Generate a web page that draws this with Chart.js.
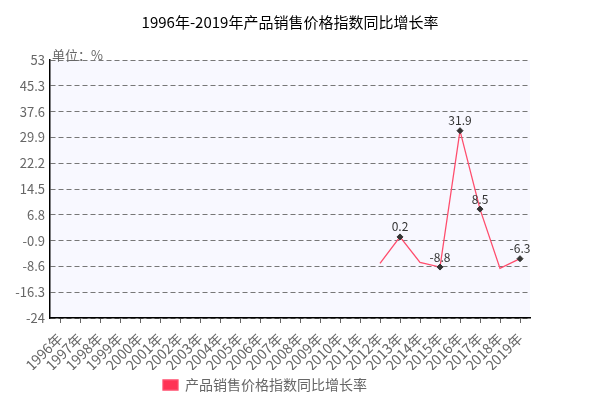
<!DOCTYPE html>
<html lang="zh">
<head>
<meta charset="UTF-8" />
<title>产品销售价格指数同比增长率</title>
<script src="https://cdn.jsdelivr.net/npm/chart.js"></script>
<style>
  html, body { margin: 0; padding: 0; background: #fff; }
  #box { width: 610px; height: 406px; }
</style>
</head>
<body>
<div id="box"><canvas id="chartCanvas"></canvas></div>
<script>
const years = ['1996年','1997年','1998年','1999年','2000年','2001年','2002年','2003年','2004年','2005年','2006年','2007年','2008年','2009年','2010年','2011年','2012年','2013年','2014年','2015年','2016年','2017年','2018年','2019年'];
const growth = [null,null,null,null,null,null,null,null,null,null,null,null,null,null,null,null,-7.7,0.2,-7.4,-8.8,31.9,8.5,-9.2,-6.3];
// only these points get a marker and a label in the original
const labelled = [false,false,false,false,false,false,false,false,false,false,false,false,false,false,false,false,false,true,false,true,true,true,false,true];
const yTicks = [-24,-16.3,-8.6,-0.9,6.8,14.5,22.2,29.9,37.6,45.3,53];
const titleText = '1996年-2019年产品销售价格指数同比增长率';
const unitText = '单位：%';
const FONT = '"Noto Sans CJK SC", "DejaVu Sans", sans-serif';

const decor = {
  id: 'decor',
  beforeDraw(chart) {
    const a = chart.chartArea, c = chart.ctx;
    c.save();
    c.fillStyle = '#f8f8ff';
    c.fillRect(a.left, a.top, a.right - a.left, a.bottom - a.top);
    c.restore();
  },
  afterDraw(chart) {
    const a = chart.chartArea, c = chart.ctx;
    c.save();
    c.fillStyle = '#000';
    c.font = '15px ' + FONT;
    c.textAlign = 'center';
    c.textBaseline = 'middle';
    c.fillText(titleText, (a.left + a.right) / 2, 22);
    c.fillStyle = '#666';
    c.font = '13px ' + FONT;
    c.textAlign = 'left';
    c.textBaseline = 'middle';
    c.fillText(unitText, a.left + 2, a.top - 5);
    // value labels
    const meta = chart.getDatasetMeta(0);
    c.fillStyle = '#333';
    c.font = '12px ' + FONT;
    c.textAlign = 'center';
    c.textBaseline = 'bottom';
    meta.data.forEach((p, i) => {
      if (!labelled[i] || growth[i] == null) return;
      c.fillText(String(growth[i]), p.x, p.y - 4);
    });
    c.restore();
  }
};

new Chart(document.getElementById('chartCanvas'), {
  type: 'line',
  data: {
    labels: years,
    datasets: [{
      label: '产品销售价格指数同比增长率',
      data: growth,
      borderColor: '#ff4d6d',
      backgroundColor: '#ff3355',
      borderWidth: 1.3,
      pointStyle: 'rectRot',
      pointRadius: labelled.map(v => v ? 3 : 0),
      pointBackgroundColor: '#333',
      pointBorderColor: '#333',
      pointBorderWidth: 1,
      tension: 0,
      spanGaps: false
    }]
  },
  options: {
    responsive: true,
    maintainAspectRatio: false,
    animation: false,
    layout: { padding: { top: 60, right: 80, left: 0, bottom: 4 } },
    plugins: {
      legend: {
        position: 'bottom',
        labels: { boxWidth: 15, boxHeight: 10, color: '#666', font: { size: 14, family: FONT }, padding: 8 }
      },
      tooltip: { enabled: false },
      title: { display: false }
    },
    scales: {
      x: {
        offset: true,
        border: { color: '#000', width: 1.5 },
        grid: { display: true, drawOnChartArea: false, drawTicks: true, tickLength: 5, offset: false, color: '#666' },
        ticks: { color: '#666', autoSkip: false, minRotation: 45, maxRotation: 45, padding: 7, font: { size: 14, family: FONT } },
        afterFit(s) { s.height = 52; }
      },
      y: {
        min: -24,
        max: 53,
        border: { color: '#000', width: 1.5, dash: [5, 3] },
        grid: { color: '#777', drawTicks: false, lineWidth: 1 },
        ticks: { color: '#666', padding: 5, font: { size: 13, family: FONT } },
        afterBuildTicks(s) { s.ticks = yTicks.map(v => ({ value: v })); },
        afterFit(s) { s.width = 50; }
      }
    }
  },
  plugins: [decor]
});
</script>
</body>
</html>
